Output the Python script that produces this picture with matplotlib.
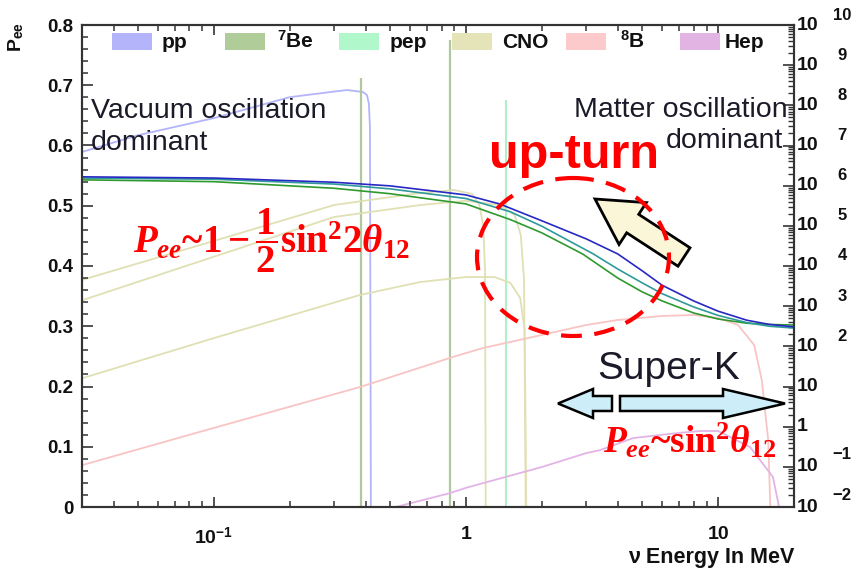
import matplotlib
matplotlib.use('Agg')
import matplotlib.pyplot as plt
from matplotlib.patches import Rectangle, Ellipse, FancyArrow
from matplotlib.ticker import MultipleLocator, LogLocator, FuncFormatter, NullFormatter, FixedLocator
import numpy as np

plt.rcParams['font.family'] = ['Liberation Sans', 'DejaVu Sans']
plt.rcParams['mathtext.fontset'] = 'custom'
plt.rcParams['mathtext.rm'] = 'Liberation Serif:bold'
plt.rcParams['mathtext.it'] = 'Liberation Serif:italic:bold'
plt.rcParams['mathtext.bf'] = 'Liberation Serif:bold'
plt.rcParams['mathtext.sf'] = 'Liberation Sans:bold'

# survival probability curves (left axis)
blue_E = [0.03, 0.1, 0.3, 0.5, 1.0, 1.36, 2.0, 3.0, 4.0, 5.0, 6.0, 8.0, 10, 13, 16, 20]
blue_pee = [0.548, 0.546, 0.539, 0.533, 0.518, 0.503, 0.475, 0.445, 0.42, 0.392, 0.368, 0.342, 0.325, 0.31, 0.303, 0.299]
teal_E = [0.03, 0.1, 0.3, 0.5, 1.0, 1.5, 2.0, 3.2, 4.0, 5.0, 6.0, 8.0, 10, 13, 16, 20]
teal_pee = [0.546, 0.544, 0.536, 0.528, 0.512, 0.49, 0.466, 0.42, 0.395, 0.372, 0.354, 0.332, 0.318, 0.306, 0.30, 0.297]
green_E = [0.03, 0.1, 0.3, 0.5, 1.0, 1.5, 2.0, 2.9, 4.0, 5.0, 6.0, 8.0, 10, 13, 16, 20]
green_pee = [0.543, 0.540, 0.529, 0.52, 0.503, 0.477, 0.455, 0.42, 0.38, 0.357, 0.342, 0.322, 0.312, 0.305, 0.303, 0.302]

# neutrino spectra (right axis, flux)
pp_E = [0.03, 0.05, 0.1, 0.2, 0.3, 0.337, 0.39, 0.405, 0.412, 0.416, 0.42]
pp_flux = [6.9e6, 1.8e7, 4.8e7, 1.6e8, 2.2e8, 2.4e8, 2.15e8, 1.8e8, 1.1e8, 2.9e7, 1e-3]
be7_E = [0.384, 0.862]
be7_flux = [4.8e8, 4.2e9]
pep_E = [1.442]
pep_flux = [1.35e8]
n13_E = [0.03, 0.1, 0.3, 0.66, 0.9, 1.06, 1.13, 1.17, 1.19, 1.199]
n13_flux = [4.5e3, 4.2e4, 3.3e5, 6.6e5, 7.8e5, 6.2e5, 3.3e5, 1.05e5, 8.0e3, 1e-3]
o15_E = [0.03, 0.1, 0.3, 0.66, 1.0, 1.36, 1.56, 1.65, 1.70, 1.73]
o15_flux = [1.4e3, 1.7e4, 1.66e5, 3.3e5, 4.2e5, 3.3e5, 1.86e5, 5.9e4, 4.5e3, 1e-3]
f17_E = [0.03, 0.1, 0.38, 0.66, 1.0, 1.3, 1.5, 1.64, 1.71, 1.74]
f17_flux = [16, 160, 1.9e3, 4.0e3, 5.3e3, 5.3e3, 3.8e3, 1.6e3, 255, 1e-3]
b8_E = [0.03, 0.1, 0.38, 0.86, 1.0, 1.17, 2.0, 3.0, 4.0, 6.0, 8.0, 10, 12, 13.9, 14.9, 15.8, 16.3]
b8_flux = [0.11, 0.93, 9.7, 51, 68, 91, 192, 340, 453, 570, 604, 508, 340, 108, 14.5, 0.47, 1e-3]
hep_E = [0.51, 0.86, 1.0, 2.0, 3.0, 3.4, 4.6, 7.0, 8.5, 10, 13.4, 16.5, 18.8]
hep_flux = [0.0095, 0.022, 0.030, 0.099, 0.22, 0.26, 0.52, 0.70, 0.78, 0.78, 0.31, 0.056, 1e-3]

legend_names = ['pp', '$^{\\mathsf{7}}$Be', 'pep', 'CNO', '$^{\\mathsf{8}}$B', 'Hep']
legend_colors = ['#b4b4fa', '#b0cc98', '#b0f8cc', '#e4e4b8', '#fccaca', '#e2b4e4']

fig = plt.figure(figsize=(8.65, 5.71), dpi=100)
ax = fig.add_axes([82/865, 64/571, 712/865, 482/571])
ax.set_xscale('log')
ax.set_xlim(0.03, 20)
ax.set_ylim(0, 0.8)

ax2 = ax.twinx()
ax2.set_yscale('log')
ax2.set_ylim(1e-2, 1e10)
# Pee curves drawn above the spectra
ax.set_zorder(ax2.get_zorder() + 1)
ax.patch.set_visible(False)

# spectra
lw_s = 1.3
ax2.plot(pp_E, pp_flux, color=legend_colors[0], lw=lw_s)
ax2.vlines(be7_E, 1e-3, be7_flux, color='#b0c8a0', lw=1.6)
ax2.vlines(pep_E, 1e-3, pep_flux, color='#b0f0c8', lw=1.5)
for E, f in [(n13_E, n13_flux), (o15_E, o15_flux), (f17_E, f17_flux)]:
    ax2.plot(E, f, color='#e0e0b4', lw=lw_s)
ax2.plot(b8_E, b8_flux, color='#f9c4c4', lw=lw_s)
ax2.plot(hep_E, hep_flux, color='#e2b4e6', lw=lw_s)

# Pee curves
ax.plot(green_E, green_pee, color='#2e9a2e', lw=1.2)
ax.plot(teal_E, teal_pee, color='#2f9a9a', lw=1.2)
ax.plot(blue_E, blue_pee, color='#2828c4', lw=1.2)

# axes styling
for a in (ax, ax2):
    for s in a.spines.values():
        s.set_color('#333333')
        s.set_linewidth(1.5)

ax.yaxis.set_major_locator(MultipleLocator(0.1))
ax.yaxis.set_minor_locator(MultipleLocator(0.02))
ax.yaxis.set_major_formatter(FuncFormatter(lambda v, p: '0' if abs(v) < 1e-9 else f'{v:.1f}'))
ax.xaxis.set_major_locator(FixedLocator([0.1, 1, 10]))
ax.xaxis.set_minor_locator(LogLocator(base=10, subs=np.arange(2, 10), numticks=50))
ax.xaxis.set_minor_formatter(NullFormatter())
ax.set_xticklabels(['10$^{\\mathsf{-1}}$', '1', '10'])
ax.tick_params(axis='y', which='major', direction='in', length=8, width=1.2, right=False,
               labelsize=13.5, pad=6, colors='#333333', labelcolor='#111111')
ax.tick_params(axis='y', which='minor', direction='in', length=4, width=1.1, right=False, colors='#333333')
ax.tick_params(axis='x', which='major', direction='in', length=7, width=1.2, top=True,
               labelsize=14, pad=14, colors='#333333', labelcolor='#111111')
ax.tick_params(axis='x', which='minor', direction='in', length=4, width=1.1, top=True, colors='#333333')
for lab in ax.get_yticklabels() + ax.get_xticklabels():
    lab.set_fontweight('bold')

ax2.yaxis.set_major_locator(LogLocator(base=10, numticks=50))
ax2.yaxis.set_minor_locator(LogLocator(base=10, subs=np.arange(2, 10), numticks=200))
ax2.yaxis.set_major_formatter(NullFormatter())
ax2.yaxis.set_minor_formatter(NullFormatter())
ax2.tick_params(axis='y', which='major', direction='in', length=8, width=1.2, colors='#333333')
ax2.tick_params(axis='y', which='minor', direction='in', length=4, width=1.0, colors='#333333')
ax2.set_ylim(1e-2, 1e10)

for e in range(-2, 11):
    base = '1' if e == 0 else '10'
    ax2.annotate(base, xy=(1, 10.0 ** e), xycoords=('axes fraction', 'data'),
                 xytext=(3, 0), textcoords='offset pixels', ha='left', va='center',
                 fontsize=14, fontweight='bold', color='#111111', annotation_clip=False)
    if e not in (0, 1):
        ax2.annotate(str(e).replace('-', '\u2212'), xy=(1, 10.0 ** e), xycoords=('axes fraction', 'data'),
                     xytext=(48, 10 if e > 0 else 12), textcoords='offset pixels', ha='center', va='center',
                     fontsize=12, fontweight='bold', color='#111111', annotation_clip=False)

ax.set_ylabel('P$_{\\mathsf{ee}}$', fontsize=14, fontweight='bold', color='#111111')
ax.yaxis.set_label_coords(-0.078, 0.975)
ax.set_xlabel('\u03bd Energy In MeV', fontsize=15.5, fontweight='bold', color='#111111', loc='right')
ax.xaxis.label.set_va('baseline')
ax.xaxis.set_label_coords(1.0, -0.117)

# overlay in pixel coordinates for annotations
ov = fig.add_axes([0, 0, 1, 1], zorder=5)
ov.set_xlim(0, 865)
ov.set_ylim(571, 0)
ov.axis('off')
ov.patch.set_alpha(0)

# legend
leg_x = [112, 225, 339, 452, 566, 680]
leg_tx = [162, 277, 390, 502, 620, 725]
for x, tx, name, c in zip(leg_x, leg_tx, legend_names, legend_colors):
    ov.add_patch(Rectangle((x, 33), 40, 17, facecolor=c, edgecolor='none'))
    ov.text(tx, 48, name, fontsize=15, fontweight='bold', color='#111111', ha='left', va='baseline')

txtc = '#1a1a28'
ov.text(91, 118, 'Vacuum oscillation', fontsize=20.5, color=txtc, va='baseline')
ov.text(91, 150, 'dominant', fontsize=20.5, color=txtc, va='baseline')
ov.text(788, 117, 'Matter oscillation', fontsize=20.5, color=txtc, va='baseline', ha='right')
ov.text(783, 148, 'dominant', fontsize=20.5, color=txtc, va='baseline', ha='right')
ov.text(489, 168, 'up-turn', fontsize=35, fontweight='bold', color='#ff0000', va='baseline')
ov.text(597, 379, 'Super-K', fontsize=28, color=txtc, va='baseline')

ov.text(133, 253, r'$P_{ee}$~$1-\dfrac{1}{2}\mathrm{sin}^{2}2\theta_{12}$', fontsize=28,
        fontfamily='Liberation Serif', fontweight='bold', color='#ff0000', va='baseline')
ov.text(603, 453, r'$P_{ee}$~$\mathrm{sin}^{2}\theta_{12}$', fontsize=27,
        fontfamily='Liberation Serif', fontweight='bold', color='#ff0000', va='baseline')

# arrows
ov.add_patch(FancyArrow(684, 257, -89, -58, width=22, head_width=50, head_length=45,
                        length_includes_head=True, facecolor='#fcf6d8', edgecolor='black', lw=2))
ov.add_patch(FancyArrow(612, 403.5, -54, 0, width=15, head_width=29, head_length=35,
                        length_includes_head=True, facecolor='#cdeef9', edgecolor='black', lw=1.8))
ov.add_patch(FancyArrow(620, 403.5, 165, 0, width=15, head_width=29, head_length=62,
                        length_includes_head=True, facecolor='#cdeef9', edgecolor='black', lw=1.8))
ov.add_patch(Ellipse((573, 257), 192, 158, fill=False, edgecolor='#ff0000', lw=3,
                     linestyle=(0, (5, 3))))

fig.savefig('out.png', dpi=100)
